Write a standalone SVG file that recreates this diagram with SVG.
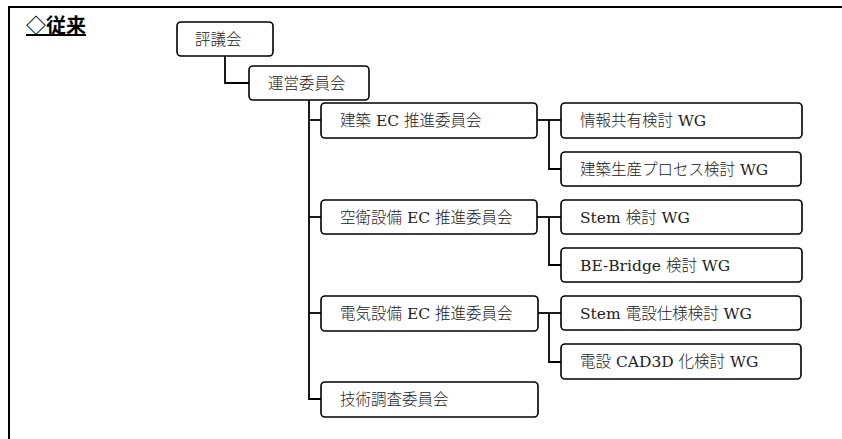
<svg xmlns="http://www.w3.org/2000/svg" width="842" height="439" viewBox="0 0 842 439">
<style>
.box{fill:#fff;stroke:#000;stroke-width:1.6}
.lbl{font-family:"DejaVu Serif","Noto Sans CJK JP",serif;font-size:15.5px;font-weight:300;fill:#222}
.con{fill:none;stroke:#000;stroke-width:1.8}
.frame{fill:none;stroke:#000;stroke-width:2}
.title{font-family:"Noto Sans CJK JP",sans-serif;font-size:20px;font-weight:bold;fill:#000;text-decoration:underline}
</style>
<rect width="842" height="439" fill="#fff"/>
<path class="frame" d="M9,439 V7 H842"/>
<text class="title" x="26" y="33">◇従来</text>
<g id="connectors">
<path class="con" d="M225,56 V83 H249"/>
<path class="con" d="M309,100 V399 H321"/>
<path class="con" d="M309,120 H321"/>
<path class="con" d="M309,217 H321"/>
<path class="con" d="M309,313 H321"/>
<path class="con" d="M537,120 H561"/>
<path class="con" d="M549,120 V169 H561"/>
<path class="con" d="M537,217 H561"/>
<path class="con" d="M549,217 V265 H561"/>
<path class="con" d="M538,313 H561"/>
<path class="con" d="M549,313 V362 H561"/>
</g>
<g id="hyogikai"><rect class="box" x="177" y="22" width="96" height="34" rx="4"/><text class="lbl" x="195" y="44.5">評議会</text></g>
<g id="unei"><rect class="box" x="249" y="66" width="120" height="34" rx="4"/><text class="lbl" x="268" y="88.5">運営委員会</text></g>
<g id="kenchiku-ec"><rect class="box" x="321" y="103" width="216" height="35" rx="4"/><text class="lbl" x="340" y="126">建築 EC 推進委員会</text></g>
<g id="joho-wg"><rect class="box" x="561" y="103" width="241" height="35" rx="4"/><text class="lbl" x="580" y="126">情報共有検討 WG</text></g>
<g id="seisan-wg"><rect class="box" x="561" y="152" width="240" height="34" rx="4"/><text class="lbl" x="580" y="174.5">建築生産プロセス検討 WG</text></g>
<g id="kuei-ec"><rect class="box" x="321" y="200" width="216" height="34" rx="4"/><text class="lbl" x="340" y="222.5">空衛設備 EC 推進委員会</text></g>
<g id="stem-wg"><rect class="box" x="561" y="200" width="241" height="34" rx="4"/><text class="lbl" x="580" y="222.5">Stem 検討 WG</text></g>
<g id="bebridge-wg"><rect class="box" x="561" y="248" width="241" height="34" rx="4"/><text class="lbl" x="580" y="270.5">BE-Bridge 検討 WG</text></g>
<g id="denki-ec"><rect class="box" x="321" y="296" width="217" height="35" rx="4"/><text class="lbl" x="340" y="319">電気設備 EC 推進委員会</text></g>
<g id="stem-densetsu-wg"><rect class="box" x="561" y="296" width="240" height="34" rx="4"/><text class="lbl" x="580" y="318.5">Stem 電設仕様検討 WG</text></g>
<g id="cad3d-wg"><rect class="box" x="561" y="344" width="240" height="35" rx="4"/><text class="lbl" x="580" y="367">電設 CAD3D 化検討 WG</text></g>
<g id="gijutsu"><rect class="box" x="321" y="382" width="217" height="35" rx="4"/><text class="lbl" x="340" y="405">技術調査委員会</text></g>
</svg>
